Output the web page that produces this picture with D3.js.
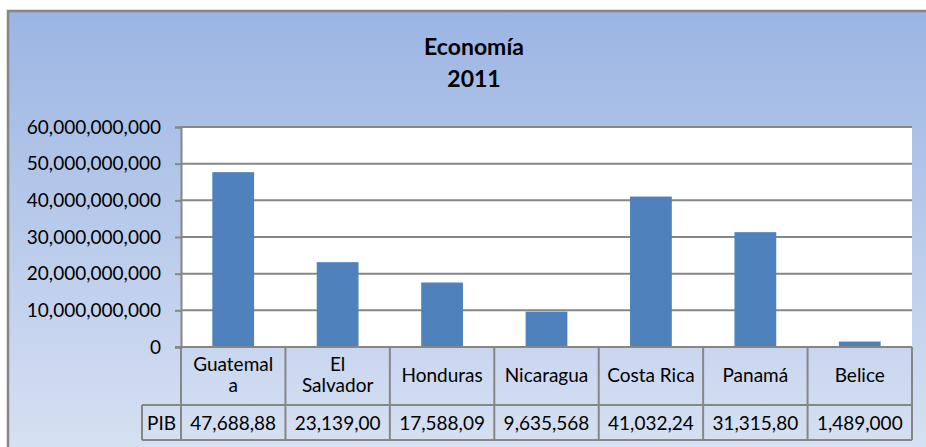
<!DOCTYPE html>
<html>
<head>
<meta charset="utf-8">
<script src="https://cdn.jsdelivr.net/npm/d3@7"></script>
<style>
  body { margin: 0; background: #fff; }
  svg text { font-family: Lato, "Open Sans", sans-serif; fill: #000; }
</style>
</head>
<body>
<div id="chart"></div>
<script>
var categories = ["Guatemala", "El Salvador", "Honduras", "Nicaragua", "Costa Rica", "Panamá", "Belice"]
var categoryLabels = ["Guatemal\na", "El\nSalvador", "Honduras", "Nicaragua", "Costa Rica", "Panamá", "Belice"]
var pib = [47688880000, 23139000000, 17588090000, 9635568000, 41032240000, 31315800000, 1489000000]
var pibLabels = ["47,688,88", "23,139,00", "17,588,09", "9,635,568", "41,032,24", "31,315,80", "1,489,000"]
var yTicks = [0, 10e9, 20e9, 30e9, 40e9, 50e9, 60e9]
var seriesName = "PIB"
var title = ["Economía", "2011"]

var width = 926
var height = 447
var grey = "#868686"

// plot area (names avoid window.top etc.)
var plotLeft = 181, plotRight = 912, plotTop = 127, plotBottom = 347
var row1 = 405, row2 = 440, headLeft = 142

var svg = d3.select("#chart").append("svg")
  .attr("width", width)
  .attr("height", height)

var grad = svg.append("defs").append("linearGradient")
  .attr("id", "bg")
  .attr("x1", 0).attr("y1", 0).attr("x2", 0).attr("y2", 1)
grad.append("stop").attr("offset", "0%").attr("stop-color", "#9bb5e3")
grad.append("stop").attr("offset", "100%").attr("stop-color", "#d9e2f3")

// chart background, runs off the right and bottom edge
svg.append("rect")
  .attr("x", 8).attr("y", 11)
  .attr("width", width + 10).attr("height", height + 10)
  .attr("fill", "url(#bg)")
  .attr("stroke", grey)
  .attr("stroke-width", 2.5)

svg.append("g")
  .selectAll("text")
  .data(title)
  .enter().append("text")
  .attr("x", 474)
  .attr("y", function(d, i) { return 55 + i * 32 })
  .attr("text-anchor", "middle")
  .attr("font-size", 23)
  .attr("font-weight", "bold")
  .text(function(d) { return d })

var x = d3.scaleBand()
  .domain(categories)
  .range([plotLeft, plotRight])
  .paddingInner(0.6)
  .paddingOuter(0.3)

var xCol = d3.scaleBand()
  .domain(categories)
  .range([plotLeft, plotRight])

var y = d3.scaleLinear()
  .domain([0, 60e9])
  .range([plotBottom, plotTop])

svg.append("rect")
  .attr("x", plotLeft).attr("y", plotTop)
  .attr("width", plotRight - plotLeft).attr("height", plotBottom - plotTop)
  .attr("fill", "#fff")

// gridlines
svg.append("g")
  .selectAll("line")
  .data(yTicks.filter(function(d) { return d > 0 }))
  .enter().append("line")
  .attr("x1", plotLeft).attr("x2", plotRight)
  .attr("y1", function(d) { return y(d) })
  .attr("y2", function(d) { return y(d) })
  .attr("stroke", grey)
  .attr("stroke-width", 2)

svg.append("g")
  .selectAll("rect")
  .data(pib)
  .enter().append("rect")
  .attr("x", function(d, i) { return x(categories[i]) })
  .attr("width", x.bandwidth())
  .attr("y", function(d) { return y(d) })
  .attr("height", function(d) { return plotBottom - y(d) })
  .attr("fill", "#4f81bd")

// y axis
var yAxis = svg.append("g")
  .attr("transform", "translate(" + plotLeft + ",0)")
  .call(d3.axisLeft(y)
    .tickValues(yTicks)
    .tickSize(6)
    .tickPadding(14)
    .tickFormat(d3.format(",")))
yAxis.select(".domain").attr("stroke", grey).attr("stroke-width", 2)
yAxis.selectAll(".tick line").attr("stroke", grey).attr("stroke-width", 2)
yAxis.selectAll(".tick text")
  .attr("font-size", 19)
  .attr("font-family", "Lato, sans-serif")
  .attr("fill", "#000")

// data table
var table = svg.append("g")
  .attr("stroke", grey)
  .attr("stroke-width", 2)

table.append("line").attr("x1", plotLeft - 6).attr("x2", plotRight).attr("y1", plotBottom).attr("y2", plotBottom)
table.append("line").attr("x1", headLeft).attr("x2", plotRight).attr("y1", row1).attr("y2", row1)
table.append("line").attr("x1", headLeft).attr("x2", plotRight).attr("y1", row2).attr("y2", row2)
table.append("line").attr("x1", headLeft).attr("x2", headLeft).attr("y1", row1).attr("y2", row2)

table.selectAll(".col")
  .data(categories.concat(["end"]))
  .enter().append("line")
  .attr("class", "col")
  .attr("x1", function(d, i) { return plotLeft + i * xCol.bandwidth() })
  .attr("x2", function(d, i) { return plotLeft + i * xCol.bandwidth() })
  .attr("y1", plotBottom).attr("y2", row2)

svg.append("g")
  .selectAll("text")
  .data(categoryLabels)
  .enter().append("text")
  .attr("text-anchor", "middle")
  .attr("font-size", 19)
  .attr("x", function(d, i) { return xCol(categories[i]) + xCol.bandwidth() / 2 })
  .each(function(d) {
    var lines = d.split("\n")
    var start = 382 - (lines.length - 1) * 11
    var t = d3.select(this)
    lines.forEach(function(line, j) {
      t.append("tspan")
        .attr("x", t.attr("x"))
        .attr("y", start + j * 21)
        .text(line)
    })
  })

svg.append("text")
  .attr("x", (headLeft + plotLeft) / 2)
  .attr("y", 430)
  .attr("text-anchor", "middle")
  .attr("font-size", 19)
  .text(seriesName)

svg.append("g")
  .selectAll("text")
  .data(pibLabels)
  .enter().append("text")
  .attr("text-anchor", "middle")
  .attr("font-size", 19)
  .attr("x", function(d, i) { return xCol(categories[i]) + xCol.bandwidth() / 2 })
  .attr("y", 430)
  .text(function(d) { return d })
</script>
</body>
</html>
